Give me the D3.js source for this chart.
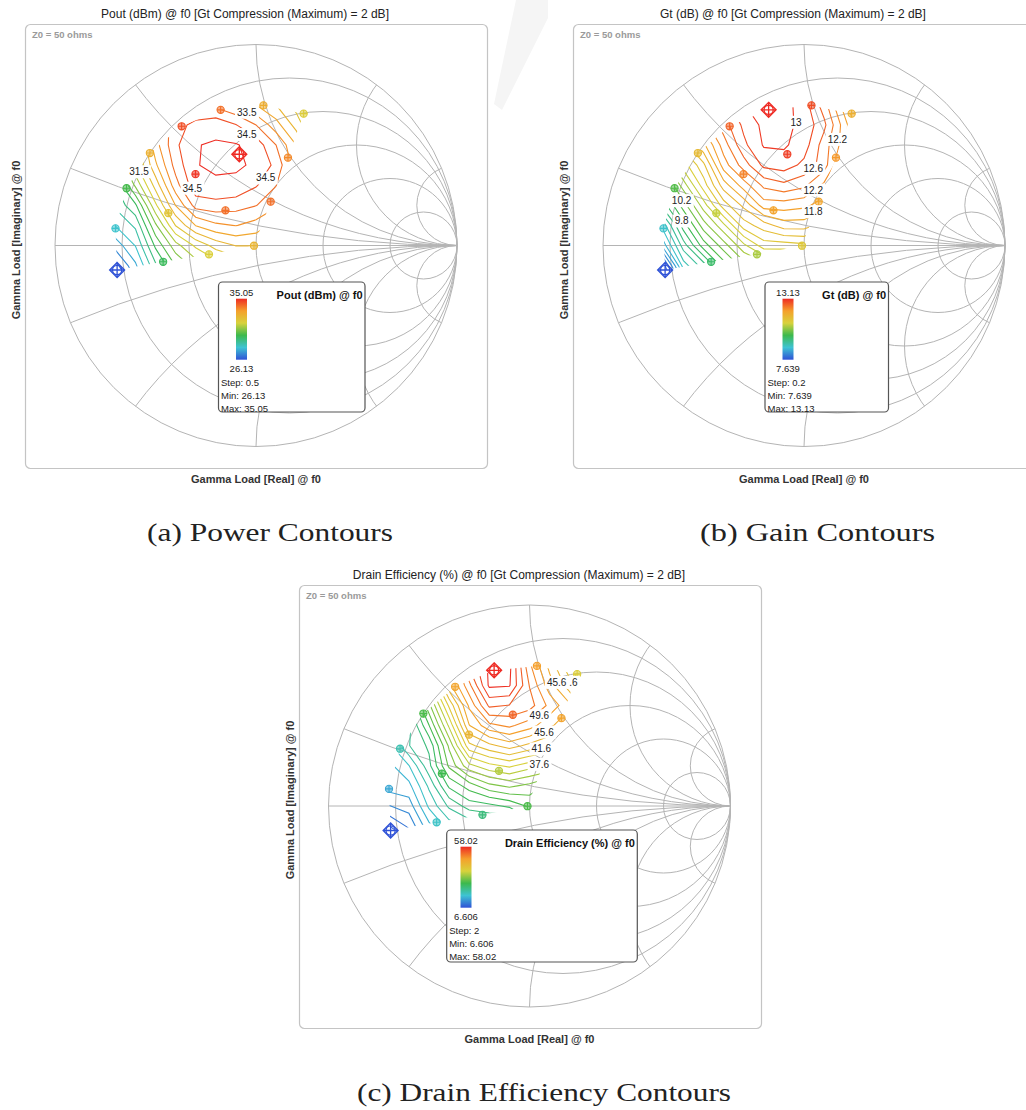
<!DOCTYPE html>
<html>
<head>
<meta charset="utf-8">
<script src="https://cdn.jsdelivr.net/npm/d3@7"></script>
<style>
  body { margin: 0; background: #fff; }
  text { font-family: "Liberation Sans", Arial, sans-serif; }
</style>
</head>
<body>
<svg id="fig" width="1026" height="1110"></svg>
<script>
// ---- data ----
// load-pull points (gamma, real / imag), same 17 points for the three charts
const pointRe = [-0.176, 0.037, 0.237, -0.370, -0.083, 0.159, -0.528, -0.301, -0.644, 0.073, -0.152, -0.436, -0.699, -0.010, -0.234, -0.462, -0.691];
const pointIm = [0.675, 0.697, 0.656, 0.593, 0.454, 0.437, 0.460, 0.355, 0.285, 0.218, 0.175, 0.161, 0.085, -0.001, -0.044, -0.081, -0.122];
// outline of the measured region (indices into the points)
const hullOrder = [16, 15, 14, 13, 9, 5, 2, 1, 0, 3, 6, 8, 12];

// interpolation grid the contours are traced on
const gridRe = [-0.8, -0.7, -0.6, -0.5, -0.4, -0.3, -0.2, -0.1, 0.0, 0.1, 0.2, 0.3];
const gridIm = [0.8, 0.7, 0.6, 0.5, 0.4, 0.3, 0.2, 0.1, 0.0, -0.1, -0.2];

// Pout (dBm)
const poutGrid = [
  [27.5, 29.0, 30.5, 32.0, 32.8, 33.2, 33.0, 32.6, 32.2, 31.7, 31.0, 30.2],
  [28.0, 29.5, 31.3, 32.8, 33.7, 34.0, 33.85, 33.5, 33.0, 32.5, 31.8, 31.0],
  [28.5, 30.0, 31.8, 33.4, 34.3, 34.65, 34.85, 34.52, 34.0, 33.2, 32.3, 31.3],
  [28.5, 30.0, 31.6, 33.3, 34.4, 34.98, 35.05, 35.04, 34.8, 34.0, 33.0, 31.8],
  [28.0, 29.8, 31.4, 32.9, 34.2, 34.99, 35.04, 35.05, 34.95, 34.35, 33.2, 32.0],
  [27.5, 29.0, 30.6, 32.2, 33.8, 34.85, 34.96, 34.92, 34.55, 34.02, 33.1, 32.05],
  [27.0, 28.6, 29.4, 31.4, 33.02, 34.2, 34.3, 34.2, 34.02, 33.6, 32.8, 31.8],
  [26.6, 28.02, 28.6, 30.4, 32.02, 33.02, 33.4, 33.52, 33.3, 32.8, 32.02, 31.02],
  [25.8, 27.2, 28.02, 29.6, 30.8, 31.6, 32.2, 32.52, 32.52, 32.02, 31.2, 30.2],
  [25.02, 26.3, 27.4, 28.9, 30.02, 30.7, 31.2, 31.52, 31.52, 31.02, 30.3, 29.52],
  [24.2, 25.52, 26.8, 28.2, 29.2, 29.8, 30.2, 30.52, 30.52, 30.02, 29.4, 28.6]
];
const poutAtPoints = [34.0, 32.8, 31.7, 34.5, 35.05, 33.6, 32.7, 34.9, 29.8, 34.0, 34.0, 32.0, 28.0, 32.5, 31.6, 29.5, 26.13];
const poutLabels = [["33.5", -0.046, 0.663], ["34.5", -0.046, 0.552], ["34.5", 0.048, 0.336], ["34.5", -0.317, 0.285], ["31.5", -0.582, 0.367]];
const poutRange = [26.13, 35.05];

// Gt (dB)
const gainGrid = [
  [10.6, 11.25, 11.7, 12.1, 12.65, 12.9, 12.98, 12.95, 12.9, 12.5, 11.9, 11.1],
  [10.65, 11.25, 11.9, 12.3, 12.7, 12.99, 13.12, 13.08, 12.9, 12.5, 11.9, 11.3],
  [10.5, 11.1, 11.7, 12.1, 12.5, 12.85, 13.05, 13.05, 12.95, 12.65, 12.1, 11.5],
  [10.1, 10.7, 11.3, 11.75, 12.3, 12.75, 13.02, 13.03, 12.9, 12.5, 12.1, 11.3],
  [9.7, 10.3, 10.9, 11.35, 12.1, 12.5, 12.85, 12.9, 12.75, 12.5, 11.9, 11.3],
  [9.1, 9.9, 10.5, 11.1, 11.7, 12.1, 12.45, 12.55, 12.45, 12.15, 11.7, 11.1],
  [8.7, 9.5, 10.1, 10.7, 11.3, 11.65, 12.1, 12.1, 12.05, 11.9, 11.5, 10.9],
  [8.3, 8.9, 9.7, 10.3, 10.75, 11.3, 11.5, 11.7, 11.7, 11.5, 11.1, 10.5],
  [7.7, 8.5, 9.3, 9.9, 10.3, 10.75, 11.1, 11.1, 11.15, 11.1, 10.7, 10.1],
  [7.3, 7.7, 8.9, 9.3, 9.9, 10.3, 10.5, 10.55, 10.7, 10.5, 10.3, 9.7],
  [6.7, 7.3, 8.3, 8.9, 9.3, 9.75, 9.9, 10.1, 10.05, 9.9, 9.7, 9.3]
];
const gainAtPoints = [13.13, 12.8, 11.7, 12.6, 12.95, 12.1, 11.45, 12.3, 10.0, 11.9, 11.95, 10.8, 8.8, 11.15, 10.6, 9.6, 7.639];
const gainLabels = [["13", -0.04, 0.613], ["12.2", 0.166, 0.528], ["12.6", 0.046, 0.384], ["12.2", 0.046, 0.276], ["11.8", 0.046, 0.168], ["10.2", -0.609, 0.223], ["9.8", -0.609, 0.122]];
const gainRange = [7.639, 13.13];

// Drain efficiency (%)
const effGrid = [
  [12, 18, 26, 34, 43, 50, 56, 55, 47, 43, 38, 32],
  [12, 19, 27, 36, 46, 54, 58.0, 58.2, 50, 45, 40, 34],
  [12, 18, 26, 35, 45, 51, 58.0, 57.8, 51.5, 46.5, 42.5, 37],
  [12, 17, 23, 31, 40, 48, 54, 53.5, 52.5, 49, 46, 40],
  [12, 16, 21, 27.5, 36, 45.5, 49, 50, 48.5, 46, 44, 39],
  [11, 17, 21.5, 24, 32, 41, 43, 44.5, 43, 41.5, 40, 36],
  [10, 15, 17.5, 23, 30, 35, 37, 38, 36.5, 35.5, 34, 31],
  [9.5, 14.5, 15, 20, 26, 28.5, 31, 32, 31, 29, 28, 26],
  [8, 11.5, 12.5, 18, 22, 24.5, 25, 26, 28, 24, 23, 22],
  [5, 7.5, 10, 15, 18.5, 20, 21, 20, 24, 19, 18, 17],
  [2, 4, 6.5, 8, 10, 12, 14, 15, 19, 15, 14, 13]
];
const effAtPoints = [58.02, 47.7, 38.5, 46.7, 52.9, 47.0, 28.2, 43.6, 19.5, 37.0, 35.0, 27.2, 14.3, 28.2, 23.6, 17.9, 6.606];
const effLabels = [["45.6", 0.135, 0.615], [".6", 0.218, 0.615], ["49.6", 0.049, 0.449], ["45.6", 0.072, 0.368], ["41.6", 0.059, 0.284], ["37.6", 0.049, 0.207]];
const effRange = [6.606, 58.02];

// Smith chart grid
const resistances = [0.2, 0.5, 1, 2, 5];
const reactances = [0.2, 0.5, 1, 2, 5];

// colour map (fraction of range -> colour)
const stopAt = [0, 0.2, 0.4, 0.6, 0.8, 1];
const stopColors = ['#2f52d6', '#3ec3d3', '#3cb94d', '#d8d23c', '#f5a02c', '#ee2b24'];

const panels = [
  { id: 'a', grid: poutGrid, atPoints: poutAtPoints, labels: poutLabels, range: poutRange, step: 0.5, first: 26.5, best: 4,
    name: 'Pout (dBm) @ f0', title: 'Pout (dBm) @ f0 [Gt Compression (Maximum) = 2 dB]',
    cx: 256, cy: 245.5, box: [25, 24, 462, 444], titleX: 245, titleY: 18, yLabX: 16, yLabY: 240, xLabY: 483,
    legend: { x: 218.5, y: 282, w: 146.5, h: 130, barX: 236 },
    caption: '(a) Power Contours', capX: 270, capY: 541, capW: 246 },
  { id: 'b', grid: gainGrid, atPoints: gainAtPoints, labels: gainLabels, range: gainRange, step: 0.2, first: 7.8, best: 0,
    name: 'Gt (dB) @ f0', title: 'Gt (dB) @ f0 [Gt Compression (Maximum) = 2 dB]',
    cx: 804, cy: 245.5, box: [573, 24, 462, 444], titleX: 793, titleY: 18, yLabX: 564, yLabY: 240, xLabY: 483,
    legend: { x: 765, y: 282, w: 123.5, h: 130, barX: 782.5 },
    caption: '(b) Gain Contours', capX: 817.5, capY: 541, capW: 235 },
  { id: 'c', grid: effGrid, atPoints: effAtPoints, labels: effLabels, range: effRange, step: 2, first: 7.6, best: 0,
    name: 'Drain Efficiency (%) @ f0', title: 'Drain Efficiency (%) @ f0 [Gt Compression (Maximum) = 2 dB]',
    cx: 529.5, cy: 806, box: [299, 585, 462, 443], titleX: 519, titleY: 579, yLabX: 290, yLabY: 800, xLabY: 1043,
    legend: { x: 446.7, y: 830, w: 190.6, h: 132, barX: 460.5 },
    caption: '(c) Drain Efficiency Contours', capX: 544, capY: 1101, capW: 374 }
];

const svg = d3.select('#fig');

// faint watermark stripe between the two upper charts
svg.append('polygon')
  .attr('points', '516,0 548,0 548,18 502,110 494,104')
  .attr('fill', '#f5f5f5');

function drawPanel(p) {
  const R = 201;
  const x = d3.scaleLinear().domain([-1, 1]).range([p.cx - R, p.cx + R]);
  const y = d3.scaleLinear().domain([-1, 1]).range([p.cy + R, p.cy - R]);
  const color = d3.scaleLinear()
    .domain(stopAt.map(t => p.range[0] + t * (p.range[1] - p.range[0])))
    .range(stopColors);

  const g = svg.append('g');

  g.append('rect')
    .attr('x', p.box[0] + 0.5).attr('y', p.box[1] + 0.5)
    .attr('width', p.box[2]).attr('height', p.box[3])
    .attr('rx', 5)
    .attr('fill', '#fff').attr('stroke', '#c4c4c4').attr('stroke-width', 1.2);

  g.append('text')
    .attr('x', p.titleX).attr('y', p.titleY)
    .attr('text-anchor', 'middle')
    .attr('font-size', 12).attr('fill', '#222')
    .text(p.title);

  g.append('text')
    .attr('x', p.box[0] + 7).attr('y', p.box[1] + 13.5)
    .attr('font-size', 9.5).attr('font-weight', 'bold').attr('fill', '#9a9a9a')
    .text('Z0 = 50 ohms');

  g.append('text')
    .attr('transform', `translate(${p.yLabX},${p.yLabY}) rotate(-90)`)
    .attr('text-anchor', 'middle').attr('dominant-baseline', 'central')
    .attr('font-size', 11).attr('font-weight', 'bold').attr('fill', '#333')
    .text('Gamma Load [Imaginary] @ f0');

  g.append('text')
    .attr('x', p.cx).attr('y', p.xLabY)
    .attr('text-anchor', 'middle')
    .attr('font-size', 11).attr('font-weight', 'bold').attr('fill', '#333')
    .text('Gamma Load [Real] @ f0');

  // Smith chart
  const diskId = 'disk-' + p.id;
  g.append('clipPath').attr('id', diskId)
    .append('circle').attr('cx', x(0)).attr('cy', y(0)).attr('r', R);

  const smith = g.append('g')
    .attr('fill', 'none').attr('stroke', '#b4b4b4').attr('stroke-width', 1);

  smith.selectAll('circle.res')
    .data(resistances)
    .join('circle').attr('class', 'res')
    .attr('cx', r => x(r / (1 + r))).attr('cy', y(0))
    .attr('r', r => x(1 / (1 + r)) - x(0));

  smith.selectAll('circle.reac')
    .data(reactances.flatMap(v => [v, -v]))
    .join('circle').attr('class', 'reac')
    .attr('cx', x(1)).attr('cy', v => y(1 / v))
    .attr('r', v => x(1 / Math.abs(v)) - x(0))
    .attr('clip-path', `url(#${diskId})`);

  smith.append('line')
    .attr('x1', x(-1)).attr('x2', x(1)).attr('y1', y(0)).attr('y2', y(0));
  smith.append('circle')
    .attr('cx', x(0)).attr('cy', y(0)).attr('r', R);

  // contours
  const nx = gridRe.length, ny = gridIm.length;
  const gx = d3.scaleLinear().domain([0.5, nx - 0.5]).range([gridRe[0], gridRe[nx - 1]]);
  const gy = d3.scaleLinear().domain([0.5, ny - 0.5]).range([gridIm[0], gridIm[ny - 1]]);
  const path = d3.geoPath(d3.geoTransform({
    point(a, b) { this.stream.point(x(gx(a)), y(gy(b))); }
  }));
  const levels = d3.range(p.first, p.range[1], p.step);
  const contours = d3.contours().size([nx, ny]).thresholds(levels)(p.grid.flat());

  const hullId = 'hull-' + p.id;
  g.append('clipPath').attr('id', hullId)
    .append('polygon')
    .attr('points', hullOrder.map(i => [x(pointRe[i]), y(pointIm[i])].join(',')).join(' '));

  g.append('g')
    .attr('clip-path', `url(#${hullId})`)
    .selectAll('path')
    .data(contours)
    .join('path')
    .attr('d', path)
    .attr('fill', 'none')
    .attr('stroke', d => color(d.value))
    .attr('stroke-width', 1.1);

  // measured points
  const marks = g.append('g').attr('fill', 'none');
  pointRe.forEach((re, i) => {
    const px = x(re), py = y(pointIm[i]);
    const c = color(p.atPoints[i]);
    if (i === p.best || i === pointRe.length - 1) {
      const s = 7.5;
      marks.append('path')
        .attr('d', `M${px},${py - s}L${px + s},${py}L${px},${py + s}L${px - s},${py}Z M${px - s},${py}H${px + s} M${px},${py - s}V${py + s}`)
        .attr('stroke', c).attr('stroke-width', 1.3);
      marks.append('circle').attr('cx', px).attr('cy', py).attr('r', 4.6)
        .attr('stroke', c).attr('stroke-width', 1.3);
    } else {
      const s = 3.6;
      marks.append('circle').attr('cx', px).attr('cy', py).attr('r', s)
        .attr('fill', c).attr('fill-opacity', 0.55)
        .attr('stroke', c).attr('stroke-width', 1.1);
      marks.append('path')
        .attr('d', `M${px - s},${py}H${px + s} M${px},${py - s}V${py + s}`)
        .attr('stroke', c).attr('stroke-width', 1.1);
    }
  });

  // contour labels
  p.labels.forEach(([txt, re, im]) => {
    const lg = g.append('g');
    const t = lg.append('text')
      .attr('x', x(re)).attr('y', y(im))
      .attr('text-anchor', 'middle').attr('dominant-baseline', 'central')
      .attr('font-size', 10).attr('fill', '#222')
      .text(txt);
    const bb = t.node().getBBox();
    lg.insert('rect', 'text')
      .attr('x', bb.x - 2).attr('y', bb.y - 1)
      .attr('width', bb.width + 4).attr('height', bb.height + 2)
      .attr('fill', '#fff');
  });

  // legend
  const L = p.legend;
  const gradId = 'grad-' + p.id;
  const grad = g.append('linearGradient').attr('id', gradId)
    .attr('x1', 0).attr('y1', 1).attr('x2', 0).attr('y2', 0);
  grad.selectAll('stop').data(stopAt).join('stop')
    .attr('offset', t => t)
    .attr('stop-color', (t, i) => stopColors[i]);

  const lg = g.append('g');
  lg.append('rect')
    .attr('x', L.x).attr('y', L.y).attr('width', L.w).attr('height', L.h)
    .attr('rx', 4)
    .attr('fill', '#fff').attr('stroke', '#555').attr('stroke-width', 1.2);
  const barW = 11, barTop = L.y + 16.7, barH = 61;
  lg.append('rect')
    .attr('x', L.barX).attr('y', barTop).attr('width', barW).attr('height', barH)
    .attr('fill', `url(#${gradId})`);
  lg.append('text')
    .attr('x', L.barX + barW / 2).attr('y', L.y + 13.5)
    .attr('text-anchor', 'middle').attr('font-size', 9.5).attr('fill', '#222')
    .text(p.range[1]);
  lg.append('text')
    .attr('x', L.barX + barW / 2).attr('y', barTop + barH + 12)
    .attr('text-anchor', 'middle').attr('font-size', 9.5).attr('fill', '#222')
    .text(p.range[0]);
  const lines = ['Step: ' + p.step, 'Min: ' + p.range[0], 'Max: ' + p.range[1]];
  lg.selectAll('text.info').data(lines).join('text').attr('class', 'info')
    .attr('x', L.x + 2.5).attr('y', (d, i) => barTop + barH + 26 + i * 13.2)
    .attr('font-size', 9.5).attr('fill', '#222')
    .text(d => d);
  lg.append('text')
    .attr('x', L.x + L.w - 2.5).attr('y', L.y + 17)
    .attr('text-anchor', 'end')
    .attr('font-size', 11).attr('font-weight', 'bold').attr('fill', '#111')
    .text(p.name);

  // caption
  svg.append('text')
    .attr('x', p.capX).attr('y', p.capY)
    .attr('text-anchor', 'middle')
    .attr('textLength', p.capW).attr('lengthAdjust', 'spacingAndGlyphs')
    .style('font-family', '"Liberation Serif", "DejaVu Serif", serif')
    .attr('font-size', 26).attr('fill', '#222')
    .text(p.caption);
}

panels.forEach(drawPanel);
</script>
</body>
</html>
